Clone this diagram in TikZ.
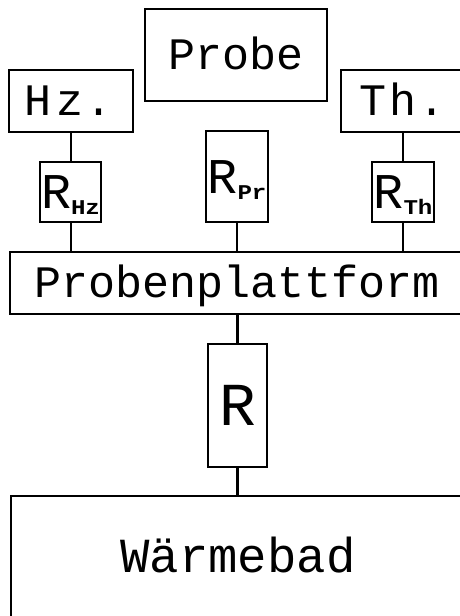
\documentclass[tikz,border=0pt]{standalone}
\usepackage{fontspec}
\usepackage{graphicx}
\newfontfamily\plotfont{Liberation Mono}
\newcommand{\plotsize}[1]{\fontsize{#1}{#1}\selectfont}
% small bold index letters, drawn wide like the plotter font
\newcommand{\idx}[1]{\raisebox{-6pt}{\scalebox{1.15}[1]{\plotsize{21}\bfseries #1}}}
% resistor label: R with index, allowed to run up to the box border
\newcommand{\rlabel}[1]{\makebox[59pt][l]{R\idx{#1}}}
\begin{document}
\begin{tikzpicture}[x=1pt,y=-1pt,
  box/.style={draw, line width=1.6pt, inner sep=0pt, outer sep=0pt,
    text depth=0pt, font=\plotfont},
  wire/.style={line width=2.4pt},
  label/.style={inner sep=0pt, outer sep=0pt, text depth=0pt, font=\plotfont}]
\useasboundingbox (0,0) rectangle (460,616);
\clip (0,0) rectangle (460,616);

% top row: heater, sample, thermometer
\node[box, minimum width=182pt, minimum height=92pt, text height=29.6pt,
  font=\plotfont\plotsize{45}] (probe) at (236,55) {Probe};
\node[box, minimum width=124pt, minimum height=62pt, text height=29.6pt,
  font=\plotfont\plotsize{45}] (hz) at (71,101) {H\kern5pt z\kern2pt.\kern4pt};
\node[box, minimum width=124pt, minimum height=62pt, text height=29.6pt,
  font=\plotfont\plotsize{45}] (th) at (403,101) {T\kern3pt h\kern2pt.};

% coupling resistances
\node[box, minimum width=61pt, minimum height=60pt, text height=33pt,
  font=\plotfont\plotsize{50}] (rhz) at (70.5,192) {\rlabel{Hz}};
\node[box, minimum width=62pt, minimum height=91pt, text height=33pt,
  font=\plotfont\plotsize{50}] (rpr) at (237,176.5) {\rlabel{Pr}};
\node[box, minimum width=62pt, minimum height=60pt, text height=33pt,
  font=\plotfont\plotsize{50}] (rth) at (403,192) {\rlabel{Th}};

% platform, link resistance and bath
\node[box, minimum width=454pt, minimum height=62pt, text height=29.6pt,
  font=\plotfont\plotsize{45}] (plat) at (237,283) {Probenplattform};
\node[box, minimum width=59pt, minimum height=123pt, text height=40pt,
  font=\plotfont\plotsize{61}] (r) at (237.5,405.5) {R};
\node[box, minimum width=452pt, minimum height=204pt] (bath) at (237,598) {};
\node[label, text height=32.3pt, font=\plotfont\plotsize{49}] (bathtext)
  at (238,556) {Wärmebad};

% connections
\draw[wire] (hz.south) -- (hz.south |- rhz.north);
\draw[wire] (hz.south |- rhz.south) -- (hz.south |- plat.north);
\draw[wire] (probe.south) -- (probe.south -| rpr.north);
\draw[wire] (rpr.south) -- (rpr.south |- plat.north);
\draw[wire] (th.south) -- (rth.north);
\draw[wire] (rth.south) -- (rth.south |- plat.north);
\draw[wire] (plat.south -| r.north) -- (r.north);
\draw[wire] (r.south) -- (r.south |- bath.north);
\end{tikzpicture}
\end{document}
